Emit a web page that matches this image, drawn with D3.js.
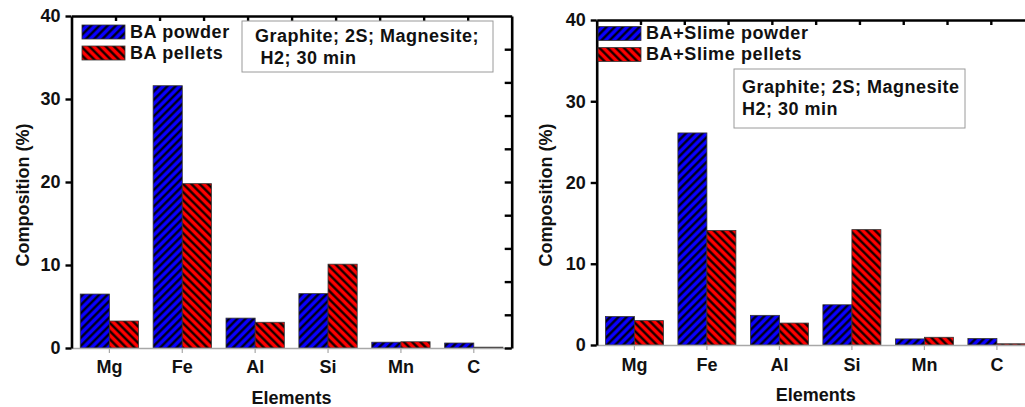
<!DOCTYPE html>
<html lang="en">
<head>
<meta charset="utf-8" />
<title>Composition by element</title>
<script src="https://d3js.org/d3.v7.min.js"></script>
<style>
  body { margin: 0; background: #ffffff; }
  svg text { font-family: "Liberation Sans", Arial, sans-serif; font-weight: bold; fill: #111; }
</style>
</head>
<body>
<div id="graph"></div>
<script>
  // data
  const elements = ["Mg", "Fe", "Al", "Si", "Mn", "C"];
  const baPowder = [6.5, 31.6, 3.6, 6.55, 0.7, 0.6];
  const baPellets = [3.25, 19.8, 3.1, 10.1, 0.75, 0.1];
  const slimePowder = [3.5, 26.1, 3.65, 4.95, 0.75, 0.8];
  const slimePellets = [3.0, 14.1, 2.7, 14.2, 0.95, 0.15];
  const yTicks = [0, 10, 20, 30, 40];
  const rightTicks = [0, 4, 8, 12, 16, 20, 24, 28, 32, 36];
  const leftLegend = ["BA powder", "BA pellets"];
  const rightLegend = ["BA+Slime powder", "BA+Slime pellets"];
  const leftNote = ["Graphite; 2S; Magnesite;", " H2; 30 min"];
  const rightNote = ["Graphite; 2S; Magnesite", "H2; 30 min"];

  const W = 1025, H = 407;
  const FS = 18;

  const svg = d3.select("#graph").append("svg")
    .attr("width", W)
    .attr("height", H);

  // hatch patterns: blue "///", red "\\\"
  const defs = svg.append("defs");
  function hatch(id, color, angle) {
    const p = defs.append("pattern")
      .attr("id", id)
      .attr("patternUnits", "userSpaceOnUse")
      .attr("width", 5.8)
      .attr("height", 10)
      .attr("patternTransform", `rotate(${angle})`);
    p.append("rect").attr("width", 5.8).attr("height", 10).attr("fill", color);
    p.append("line")
      .attr("x1", 1.4).attr("y1", 0).attr("x2", 1.4).attr("y2", 10)
      .attr("stroke", "#000").attr("stroke-width", 2.2);
  }
  hatch("hatchBlue", "#0a00ff", 45);
  hatch("hatchRed", "#ff0000", -45);

  function drawPanel(cfg) {
    const x = d3.scaleBand()
      .domain(elements)
      .range([cfg.x0, cfg.x1])
      .paddingInner(0.2)
      .paddingOuter(0.12);
    const x1 = d3.scaleBand()
      .domain(["powder", "pellets"])
      .range([0, x.bandwidth()]);
    const y = d3.scaleLinear().domain([0, 40]).range([cfg.yBot, cfg.yTop]);

    const g = svg.append("g");

    const rows = elements.map((e, i) => ({ e: e, powder: cfg.powder[i], pellets: cfg.pellets[i] }));

    // bars
    const grp = g.selectAll(".grp").data(rows).enter().append("g")
      .attr("transform", d => `translate(${x(d.e)},0)`);
    grp.append("rect")
      .attr("x", x1("powder"))
      .attr("y", d => y(d.powder))
      .attr("width", x1.bandwidth())
      .attr("height", d => y(0) - y(d.powder))
      .attr("fill", "url(#hatchBlue)")
      .attr("stroke", "#333").attr("stroke-width", 0.8);
    grp.append("rect")
      .attr("x", x1("pellets"))
      .attr("y", d => y(d.pellets))
      .attr("width", x1.bandwidth())
      .attr("height", d => y(0) - y(d.pellets))
      .attr("fill", "url(#hatchRed)")
      .attr("stroke", "#333").attr("stroke-width", 0.8);

    // bottom axis (light grey with small ticks at category centres)
    const xa = g.append("g")
      .attr("transform", `translate(0,${cfg.yBot})`)
      .call(d3.axisBottom(x).tickSize(5).tickSizeOuter(0));
    xa.select(".domain").attr("stroke", "#a8a8a8").attr("stroke-width", 1.5);
    xa.selectAll(".tick line").attr("stroke", "#a8a8a8").attr("stroke-width", 1.2);
    xa.selectAll(".tick text")
      .attr("font-size", FS)
      .attr("dy", "0")
      .attr("y", cfg.xLabelY - cfg.yBot)
      .style("font-family", "Liberation Sans, Arial, sans-serif")
      .style("font-weight", "bold");

    // top axis, ticks inward
    const topScale = d3.scaleLinear().domain([0, 10]).range([cfg.x0, cfg.x1]);
    const ta = g.append("g")
      .attr("transform", `translate(0,${cfg.yTop})`)
      .call(d3.axisTop(topScale).tickValues(d3.range(1, 10)).tickSize(-5).tickSizeOuter(0).tickFormat(""));
    ta.select(".domain").attr("stroke", "#000").attr("stroke-width", 2.6);
    ta.selectAll(".tick line").attr("stroke", "#000").attr("stroke-width", 2.4);

    // right axis, ticks inward
    const ra = g.append("g")
      .attr("transform", `translate(${cfg.x1},0)`)
      .call(d3.axisRight(y).tickValues(rightTicks).tickSize(-7).tickSizeOuter(0).tickFormat(""));
    ra.select(".domain").attr("stroke", "#000").attr("stroke-width", 2.6);
    ra.selectAll(".tick line").attr("stroke", "#000").attr("stroke-width", 2.4);

    // left axis
    const la = g.append("g")
      .attr("transform", `translate(${cfg.x0},0)`)
      .call(d3.axisLeft(y).tickValues(yTicks).tickSize(6).tickSizeOuter(0).tickPadding(5));
    la.select(".domain").attr("stroke", "#000").attr("stroke-width", 2.6);
    la.selectAll(".tick line").attr("stroke", "#000").attr("stroke-width", 2.4);
    la.selectAll(".tick text")
      .attr("font-size", FS)
      .style("font-family", "Liberation Sans, Arial, sans-serif")
      .style("font-weight", "bold");

    // axis titles
    g.append("text")
      .attr("transform", `translate(${cfg.yTitleX},195) rotate(-90)`)
      .attr("text-anchor", "middle")
      .attr("dy", "0.35em")
      .attr("font-size", FS)
      .text("Composition (%)");
    g.append("text")
      .attr("x", (cfg.x0 + cfg.x1) / 2)
      .attr("y", cfg.xTitleY)
      .attr("text-anchor", "middle")
      .attr("font-size", FS)
      .text("Elements");

    // legend
    const fills = ["url(#hatchBlue)", "url(#hatchRed)"];
    cfg.legend.forEach((lab, i) => {
      g.append("rect")
        .attr("x", cfg.lgX).attr("y", cfg.lgY[i])
        .attr("width", 43).attr("height", 14)
        .attr("fill", fills[i])
        .attr("stroke", "#333").attr("stroke-width", 0.8);
      g.append("text")
        .attr("x", cfg.lgX + 48).attr("y", cfg.lgY[i] + 12.5)
        .attr("font-size", FS)
        .attr("letter-spacing", 0.6)
        .text(lab);
    });

    // note box
    g.append("rect")
      .attr("x", cfg.note.x).attr("y", cfg.note.y)
      .attr("width", cfg.note.w).attr("height", cfg.note.h)
      .attr("fill", "#fff")
      .attr("stroke", "#9a9a9a").attr("stroke-width", 1);
    cfg.note.lines.forEach((t, i) => {
      g.append("text")
        .attr("x", cfg.note.tx)
        .attr("y", cfg.note.ty[i])
        .attr("font-size", FS)
        .attr("letter-spacing", 0.5)
        .attr("xml:space", "preserve")
        .text(t);
    });
  }

  drawPanel({
    x0: 71.5, x1: 511.7, yTop: 16, yBot: 348,
    powder: baPowder, pellets: baPellets,
    xLabelY: 373, xTitleY: 404, yTitleX: 23,
    legend: leftLegend, lgX: 82, lgY: [25, 46],
    note: { x: 242, y: 21, w: 251, h: 51, tx: 255, ty: [42, 64], lines: leftNote }
  });

  drawPanel({
    x0: 596.7, x1: 1034.6, yTop: 20, yBot: 345,
    powder: slimePowder, pellets: slimePellets,
    xLabelY: 371, xTitleY: 401, yTitleX: 546,
    legend: rightLegend, lgX: 598, lgY: [26.5, 47.5],
    note: { x: 734, y: 69, w: 231, h: 59, tx: 742, ty: [93, 115], lines: rightNote }
  });
</script>
</body>
</html>
